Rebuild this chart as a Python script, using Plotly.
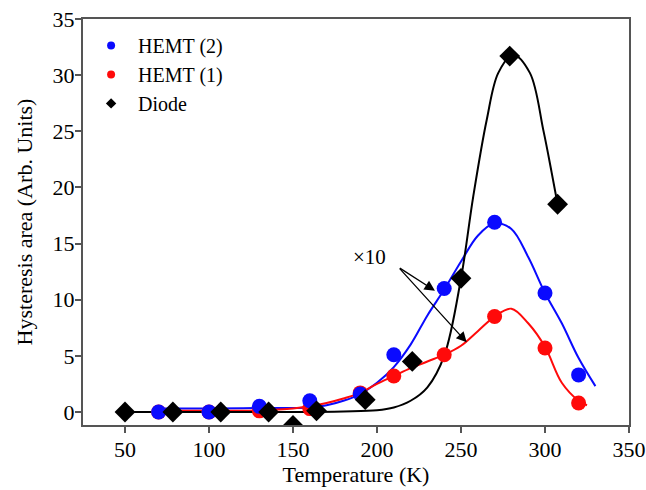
import plotly.graph_objects as go

# ---- measured data points ----
temp_hemt = [70, 100, 130, 160, 190, 210, 240, 270, 300, 320]
hemt2 = [0.0, 0.0, 0.5, 1.0, 1.6, 5.1, 11.0, 16.9, 10.6, 3.3]
hemt1 = [0.0, 0.0, 0.1, 0.3, 1.7, 3.2, 5.1, 8.5, 5.7, 0.8]

temp_diode = [50, 78.5, 107, 135.5, 150, 164, 193, 221, 250, 279, 307.5]
diode = [0.0, 0.0, 0.0, 0.0, -1.2, 0.1, 1.1, 4.5, 11.9, 31.7, 18.5]

# ---- fitted curves ----
fit2_x = [70, 100, 130, 160, 170, 180, 190, 200, 210, 220, 230, 240, 250, 260, 270, 280, 290, 300, 310, 320, 330]
fit2_y = [0.3, 0.3, 0.35, 0.4, 0.6, 1.0, 1.6, 2.6, 4.0, 6.0, 8.6, 10.9, 13.4, 15.7, 16.8, 16.3, 13.8, 10.6, 7.9, 4.8, 2.3]

fit1_x = [70, 100, 130, 150, 160, 170, 180, 190, 200, 210, 220, 230, 240, 250, 260, 270, 280, 290, 300, 310, 320, 325]
fit1_y = [0.1, 0.1, 0.15, 0.3, 0.5, 0.8, 1.2, 1.7, 2.5, 3.2, 3.9, 4.5, 5.1, 5.9, 7.2, 8.5, 9.2, 7.9, 5.8, 2.6, 1.0, 0.6]

fitd_x = [50, 100, 150, 180, 200, 210, 220, 230, 240, 250, 257.3, 265.3, 272.2, 281, 291, 299, 304, 307.5]
fitd_y = [0.0, 0.0, 0.0, 0.05, 0.15, 0.4, 1.0, 2.2, 5.0, 11.9, 19.2, 26.0, 30.2, 31.8, 30.2, 25.1, 21.3, 18.5]

x_ticks = [50, 100, 150, 200, 250, 300, 350]
y_ticks = [0, 5, 10, 15, 20, 25, 30, 35]

BLUE = "#0a0aff"
RED = "#ff0a0a"
BLACK = "#000000"
FONT = "Liberation Serif, Times New Roman, serif"

fig = go.Figure()

# fitted lines
fig.add_trace(go.Scatter(x=fit2_x, y=fit2_y, mode="lines", line=dict(color=BLUE, width=2, shape="spline"),
                         showlegend=False, hoverinfo="skip"))
fig.add_trace(go.Scatter(x=fit1_x, y=fit1_y, mode="lines", line=dict(color=RED, width=2, shape="spline"),
                         showlegend=False, hoverinfo="skip"))
fig.add_trace(go.Scatter(x=fitd_x, y=fitd_y, mode="lines", line=dict(color=BLACK, width=2, shape="spline"),
                         showlegend=False, hoverinfo="skip"))

# markers
fig.add_trace(go.Scatter(x=temp_hemt, y=hemt1, mode="markers", name="HEMT (1)",
                         marker=dict(color=RED, size=15, symbol="circle"), showlegend=False))
fig.add_trace(go.Scatter(x=temp_hemt, y=hemt2, mode="markers", name="HEMT (2)",
                         marker=dict(color=BLUE, size=15, symbol="circle"), showlegend=False))
fig.add_trace(go.Scatter(x=temp_diode, y=diode, mode="markers", name="Diode",
                         marker=dict(color=BLACK, size=16, symbol="diamond"), showlegend=False))

# legend entries (small symbols as in the original)
fig.add_trace(go.Scatter(x=[None], y=[None], mode="markers", name="HEMT (2)",
                         marker=dict(color=BLUE, size=8, symbol="circle")))
fig.add_trace(go.Scatter(x=[None], y=[None], mode="markers", name="HEMT (1)",
                         marker=dict(color=RED, size=8, symbol="circle")))
fig.add_trace(go.Scatter(x=[None], y=[None], mode="markers", name="Diode",
                         marker=dict(color=BLACK, size=8, symbol="diamond")))

# "x10" label with two arrows
fig.add_annotation(x=195.8, y=13.8, text="×10", showarrow=False,
                   font=dict(family=FONT, size=21, color="black"))
for hx, hy in [(234.5, 10.8), (253.4, 6.2)]:
    fig.add_annotation(x=hx, y=hy, ax=212.7, ay=12.9, axref="x", ayref="y",
                       text="", showarrow=True, arrowhead=2, arrowsize=1.6,
                       arrowwidth=1.3, arrowcolor="black")

axis_common = dict(showline=True, mirror=True, linecolor="#555555", linewidth=2,
                   ticks="outside", ticklen=6, tickwidth=2, tickcolor="#555555",
                   showgrid=False, zeroline=False, automargin=False,
                   tickfont=dict(family=FONT, size=22, color="black"))

fig.update_xaxes(range=[25, 350], tickvals=x_ticks, ticklabelstandoff=-2,
                 title=dict(text="Temperature (K)", font=dict(family=FONT, size=22, color="black"), standoff=0),
                 **axis_common)
fig.update_yaxes(range=[-1.16, 35], tickvals=y_ticks, ticklabelstandoff=-4,
                 title=dict(text="Hysteresis area (Arb. Units)", font=dict(family=FONT, size=22, color="black"), standoff=14),
                 **axis_common)

fig.update_layout(
    width=646, height=490,
    margin=dict(l=83, r=17, t=19, b=65),
    paper_bgcolor="white", plot_bgcolor="white",
    font=dict(family=FONT, size=20, color="black"),
    legend=dict(x=0.002, y=0.983, xanchor="left", yanchor="top", itemwidth=44,
                bgcolor="rgba(0,0,0,0)", font=dict(family=FONT, size=20, color="black"),
                tracegroupgap=0),
    showlegend=True,
)

fig.write_html("out.html", config={"displayModeBar": False},
               post_script="document.body.style.margin='0px';")
